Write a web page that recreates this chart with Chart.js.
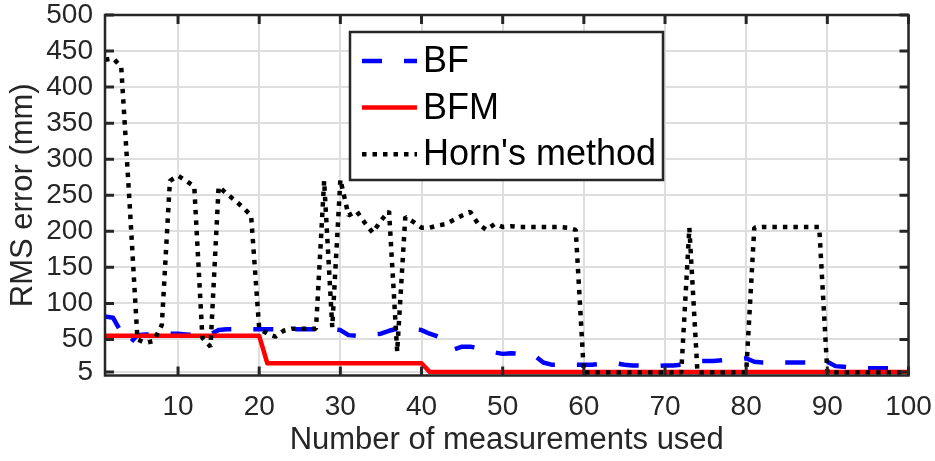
<!DOCTYPE html>
<html>
<head>
<meta charset="utf-8">
<script src="https://cdn.jsdelivr.net/npm/chart.js@4.4.1/dist/chart.umd.min.js"></script>
<style>
  html, body { margin: 0; padding: 0; background: #ffffff; }
  #wrap { width: 935px; height: 461px; }
</style>
</head>
<body>
<div id="wrap"><canvas id="rmsChart" width="935" height="461"></canvas></div>
<script>
// Number of measurements used (1 ... 100)
const measurementCounts = Array.from({ length: 100 }, (_, i) => i + 1);

// RMS error (mm) per method
const bfError = [
  82, 80, 60, 44, 56, 57, 57, 58, 58, 58,
  57, 56, 55, 57, 63, 64, 64, 64, 64, 64,
  64, 64, 64, 64, 64, 64, 64, 64, 64, 63,
  56, 55, 55, 57, 58, 62, 65, 64, 64, 63,
  58, 54, 45, 36, 40, 40, 38, 35, 32, 30,
  31, 30, 29, 27, 18, 15, 15, 15, 15, 15,
  15, 16, 17, 17, 15, 14, 14, 13, 13, 14,
  14, 15, 18, 20, 20, 20, 21, 22, 23, 24,
  19, 18, 18, 18, 18, 18, 18, 18, 18, 19,
  13, 12, 11, 10, 10, 10, 10, 10, 10, 10
];

const bfmError = [
  55, 55, 55, 55, 55, 55, 55, 55, 55, 55,
  55, 55, 55, 55, 55, 55, 55, 55, 55, 55,
  17, 17, 17, 17, 17, 17, 17, 17, 17, 17,
  17, 17, 17, 17, 17, 17, 17, 17, 17, 17,
  5, 5, 5, 5, 5, 5, 5, 5, 5, 5,
  5, 5, 5, 5, 5, 5, 5, 5, 5, 5,
  5, 5, 5, 5, 5, 5, 5, 5, 5, 5,
  5, 5, 5, 5, 5, 5, 5, 5, 5, 5,
  5, 5, 5, 5, 5, 5, 5, 5, 5, 5,
  5, 5, 5, 5, 5, 5, 5, 5, 5, 5
];

const hornError = [
  438, 440, 428, 245, 50, 45, 48, 70, 270, 277,
  270, 262, 52, 40, 262, 252, 243, 233, 222, 65,
  58, 54, 62, 65, 65, 65, 65, 270, 67, 272,
  222, 228, 212, 198, 215, 228, 33, 220, 213, 205,
  205, 208, 210, 216, 222, 227, 210, 202, 210, 206,
  207, 206, 206, 206, 206, 206, 206, 205, 202, 4,
  4, 4, 4, 4, 4, 4, 4, 4, 4, 4,
  4, 4, 205, 4, 4, 4, 4, 4, 4, 4,
  205, 206, 206, 206, 206, 206, 206, 206, 206, 4,
  4, 4, 4, 4, 4, 4, 4, 4, 4, 4
];

const xTickValues = [10, 20, 30, 40, 50, 60, 70, 80, 90, 100];
const yTickValues = [5, 50, 100, 150, 200, 250, 300, 350, 400, 450, 500];
const seriesNames = ['BF', 'BFM', "Horn's method"];

const FONT = '"Liberation Sans", Arial, Helvetica, sans-serif';
const AXIS_COLOR = '#262626';
const GRID_COLOR = 'rgb(222,222,222)';

function toPoints(values) {
  return measurementCounts.map((n, i) => ({ x: n, y: values[i] }));
}

// Axes box with inward tick marks on all four sides
const frameAndTicks = {
  id: 'frameAndTicks',
  afterDatasetsDraw(chart) {
    const { ctx, chartArea: a, scales: { x, y } } = chart;
    ctx.save();
    ctx.strokeStyle = AXIS_COLOR;
    ctx.lineWidth = 3;
    ctx.lineCap = 'butt';
    ctx.beginPath();
    xTickValues.forEach(v => {
      const px = x.getPixelForValue(v);
      ctx.moveTo(px, a.bottom); ctx.lineTo(px, a.bottom - 9);
      ctx.moveTo(px, a.top); ctx.lineTo(px, a.top + 9);
    });
    yTickValues.forEach(v => {
      const py = y.getPixelForValue(v);
      ctx.moveTo(a.left, py); ctx.lineTo(a.left + 9, py);
      ctx.moveTo(a.right, py); ctx.lineTo(a.right - 9, py);
    });
    ctx.stroke();
    ctx.lineWidth = 2.5;
    ctx.strokeRect(a.left, a.top, a.right - a.left, a.bottom - a.top);
    ctx.restore();
  }
};

// Boxed legend in the upper middle of the plot
const boxedLegend = {
  id: 'boxedLegend',
  afterDraw(chart) {
    const ctx = chart.ctx;
    const box = { x: 350, y: 32, w: 313, h: 148 };
    ctx.save();
    ctx.fillStyle = '#ffffff';
    ctx.fillRect(box.x, box.y, box.w, box.h);
    ctx.strokeStyle = AXIS_COLOR;
    ctx.lineWidth = 2.5;
    ctx.strokeRect(box.x, box.y, box.w, box.h);
    ctx.font = '36px ' + FONT;
    ctx.textBaseline = 'middle';
    ctx.textAlign = 'left';
    chart.data.datasets.forEach((ds, i) => {
      const cy = 61 + i * 46.6;
      ctx.strokeStyle = ds.borderColor;
      ctx.lineWidth = ds.borderWidth;
      ctx.lineCap = 'butt';
      ctx.setLineDash(ds.borderDash || []);
      ctx.beginPath();
      ctx.moveTo(362, cy);
      ctx.lineTo(417, cy);
      ctx.stroke();
      ctx.setLineDash([]);
      ctx.fillStyle = '#000000';
      ctx.fillText(ds.label, 423, cy + 1);
    });
    ctx.restore();
  }
};

new Chart(document.getElementById('rmsChart'), {
  type: 'line',
  data: {
    datasets: [
      {
        label: seriesNames[0],
        data: toPoints(bfError),
        borderColor: '#0000ff',
        borderWidth: 4.5,
        borderDash: [20, 22],
        borderJoinStyle: 'round',
        pointRadius: 0,
        tension: 0,
        order: 2
      },
      {
        label: seriesNames[1],
        data: toPoints(bfmError),
        borderColor: '#ff0000',
        borderWidth: 4.5,
        borderJoinStyle: 'round',
        pointRadius: 0,
        tension: 0,
        order: 1
      },
      {
        label: seriesNames[2],
        data: toPoints(hornError),
        borderColor: '#000000',
        borderWidth: 4.5,
        borderDash: [4.5, 6],
        borderCapStyle: 'butt',
        borderJoinStyle: 'bevel',
        pointRadius: 0,
        tension: 0,
        order: 0
      }
    ]
  },
  options: {
    responsive: false,
    animation: false,
    devicePixelRatio: 1,
    layout: { padding: { top: 15, right: 26.5, left: 0, bottom: 0 } },
    plugins: {
      legend: { display: false },
      tooltip: { enabled: false }
    },
    scales: {
      x: {
        type: 'linear',
        min: 1,
        max: 100,
        afterBuildTicks: s => { s.ticks = xTickValues.map(v => ({ value: v })); },
        afterFit: s => { s.height = 85.5; s.paddingLeft = 0; s.paddingRight = 0; },
        border: { display: false },
        grid: { color: GRID_COLOR, lineWidth: 2, drawTicks: false },
        ticks: {
          padding: 18,
          autoSkip: false,
          maxRotation: 0,
          color: AXIS_COLOR,
          font: { family: FONT, size: 28, lineHeight: 1 },
          callback: v => String(v)
        },
        title: {
          display: true,
          text: 'Number of measurements used',
          color: AXIS_COLOR,
          font: { family: FONT, size: 31 },
          padding: { top: 0, bottom: 2.4 }
        }
      },
      y: {
        type: 'linear',
        min: 0,
        max: 500,
        afterBuildTicks: s => { s.ticks = yTickValues.map(v => ({ value: v })); },
        afterFit: s => { s.width = 105; s.paddingTop = 0; s.paddingBottom = 0; },
        border: { display: false },
        grid: { color: GRID_COLOR, lineWidth: 2, drawTicks: false },
        ticks: {
          padding: 12,
          autoSkip: false,
          color: AXIS_COLOR,
          font: { family: FONT, size: 28, lineHeight: 1 },
          callback: v => String(v)
        },
        title: {
          display: true,
          text: 'RMS error (mm)',
          color: AXIS_COLOR,
          font: { family: FONT, size: 31 },
          padding: { top: 5, bottom: 0 }
        }
      }
    }
  },
  plugins: [frameAndTicks, boxedLegend]
});
</script>
</body>
</html>
